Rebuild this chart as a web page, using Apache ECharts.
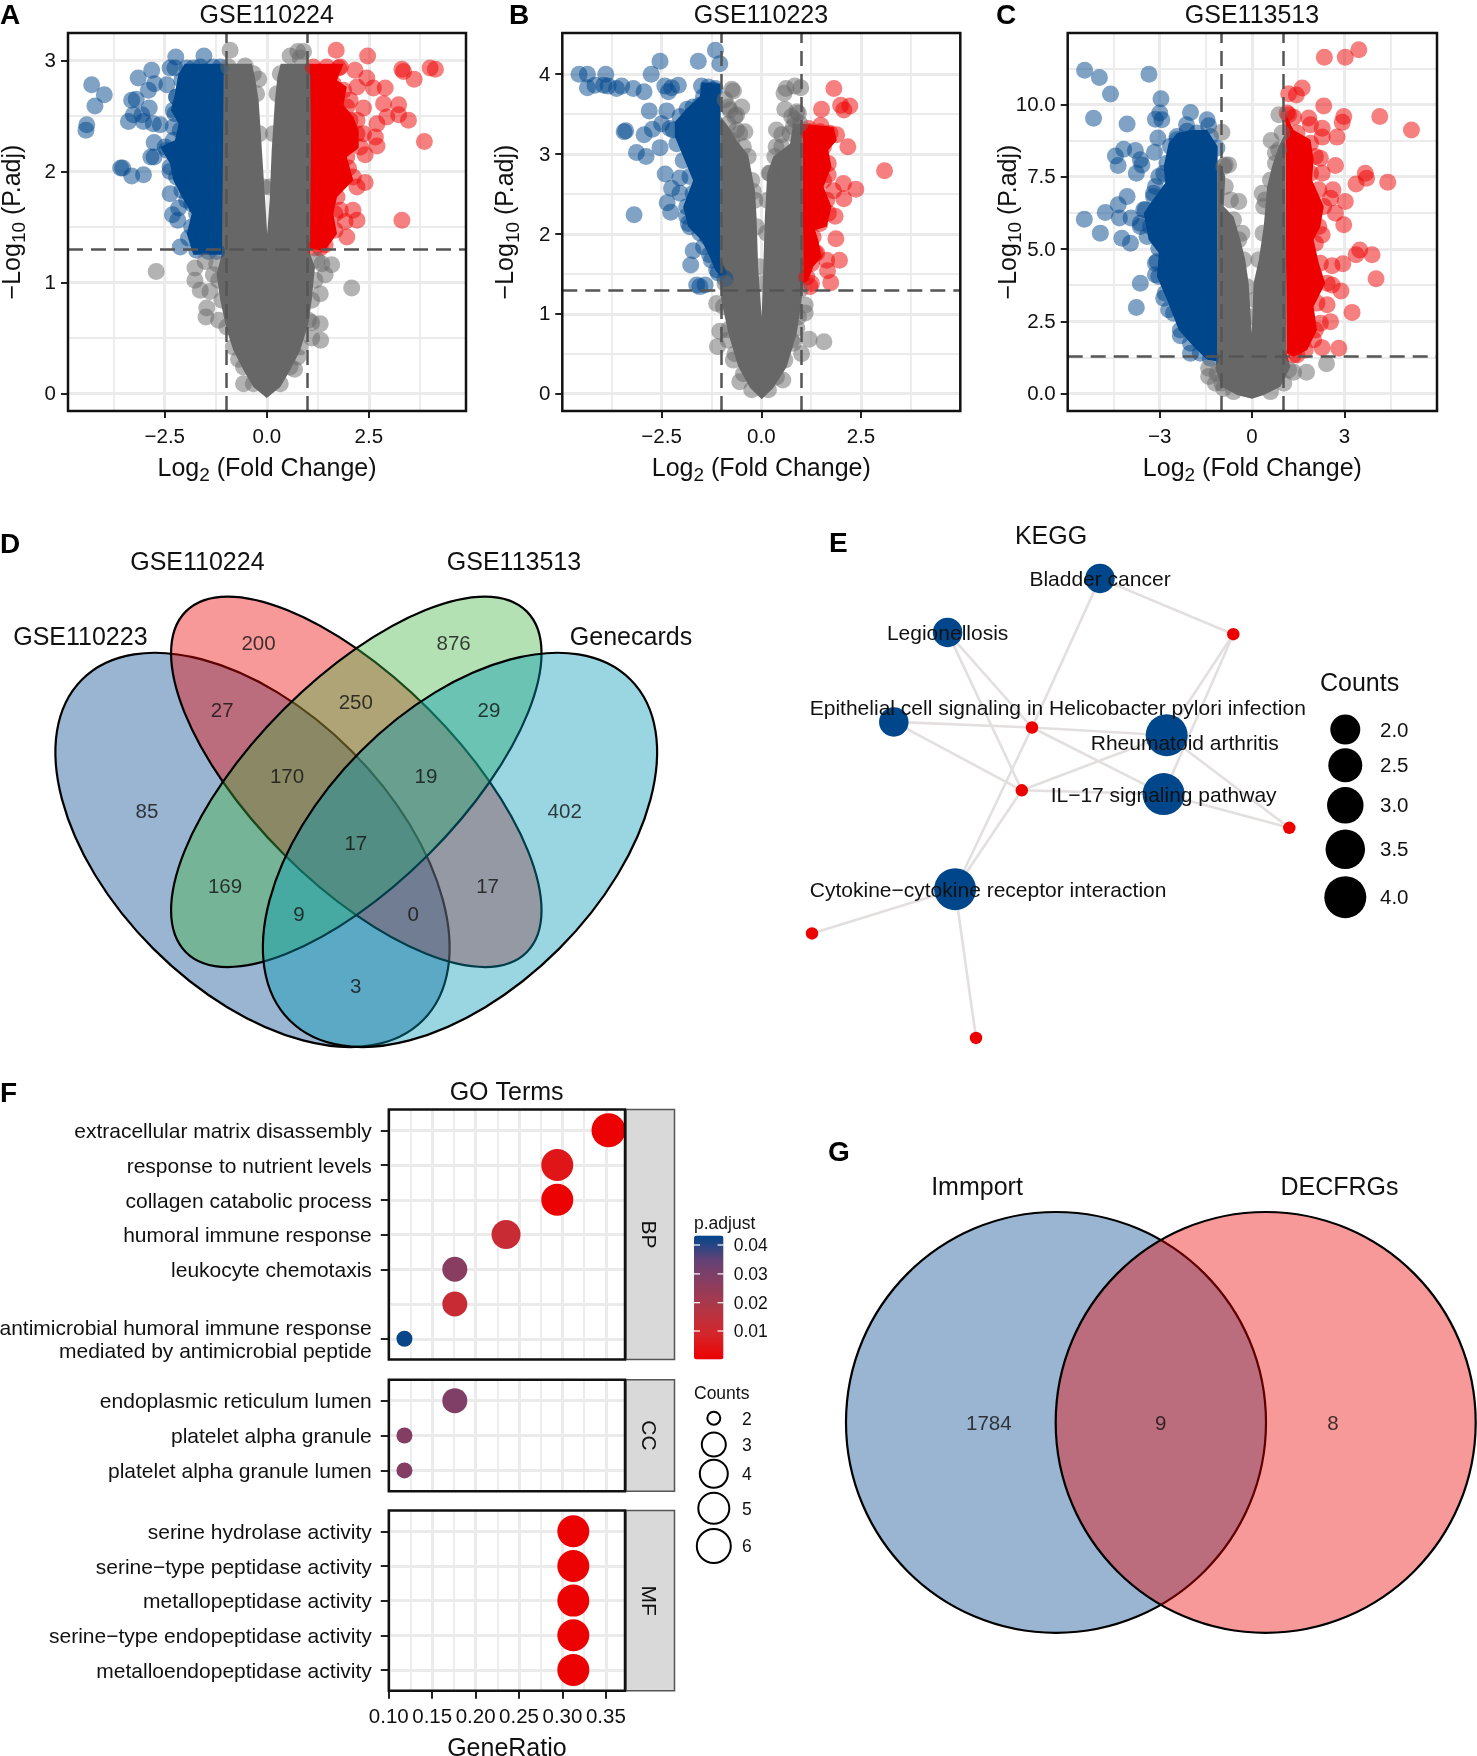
<!DOCTYPE html>
<html><head><meta charset="utf-8">
<style>html,body{margin:0;padding:0;background:#fff}#c{width:1477px;height:1756px}</style>
<script src="https://cdn.jsdelivr.net/npm/echarts@6/dist/echarts.min.js"></script>
</head><body><div id="c"></div>
<script>
// ---------- DATA: volcano A (GSE110224) ----------
const aBlueDots=[[-4.29,2.78],[-3.98,2.69],[-4.21,2.59],[-4.41,2.42],[-4.43,2.37],[-3.15,2.84],[-2.82,2.91],[-2.23,3.03],[-1.54,3.04],[-2.37,2.93],[-2.25,2.93],[-1.80,2.93],[-2.90,2.73],[-2.75,2.79],[-2.45,2.78],[-3.31,2.64],[-3.20,2.65],[-2.88,2.57],[-3.39,2.45],[-3.06,2.51],[-3.02,2.45],[-3.27,2.51],[-2.61,2.42],[-2.29,2.40],[-2.78,2.43],[-2.76,2.26],[-2.49,2.22],[-2.84,2.13],[-2.76,2.13],[-3.58,2.03],[-3.31,1.96],[-3.02,1.97],[-3.53,2.03],[-2.37,2.0],[-2.37,1.80],[-2.16,1.67],[-2.31,1.61],[-2.18,1.56],[-2.12,1.32],[-1.84,1.71],[-2.21,2.67],[-2.25,2.52]];
const aBlueEdge=[[-1.96,2.93],[-2.08,2.82],[-2.21,2.67],[-2.29,2.55],[-2.12,2.37],[-2.29,2.28],[-2.45,2.19],[-2.37,2.04],[-2.21,1.95],[-2.08,1.83],[-1.96,1.74],[-1.72,1.62],[-1.84,1.50],[-1.92,1.40],[-1.72,1.29],[-1.43,1.28],[-1.23,1.28],[-1.63,2.94],[-1.31,2.94],[-1.14,2.94]];
const aRedDots=[[1.70,3.09],[2.47,3.04],[3.31,2.92],[4.00,2.93],[4.13,2.92],[3.61,2.83],[3.35,2.90],[2.90,2.75],[2.86,2.61],[3.23,2.60],[3.23,2.51],[3.47,2.46],[2.94,2.49],[3.86,2.27],[2.70,2.43],[2.66,2.31],[2.70,2.23],[2.41,2.15],[2.41,1.90],[2.21,1.86],[3.31,1.56],[2.11,1.65],[1.96,1.41],[1.92,1.55],[2.21,1.56],[1.80,1.65],[2.16,2.91],[2.45,2.84],[2.21,2.76],[2.61,2.75],[2.37,2.57],[2.04,2.64],[1.80,2.94],[2.04,2.46],[2.21,2.34],[2.00,2.03],[2.04,2.25],[1.31,1.31]];
const aRedEdge=[[1.14,2.94],[1.47,2.94],[1.76,2.93],[1.63,2.79],[1.88,2.73],[1.96,2.58],[2.21,2.46],[2.37,2.34],[2.29,2.22],[1.96,2.13],[2.12,1.95],[1.72,1.77],[1.67,1.62],[1.67,1.47],[1.43,1.34],[1.18,1.31]];
const aGrayDots=[[-0.90,3.09],[0.57,3.04],[0.76,3.08],[0.90,3.08],[0.82,3.02],[-0.20,2.83],[-2.71,1.10],[-1.76,1.13],[-1.51,1.19],[-1.76,1.02],[-1.63,.93],[-1.47,.77],[-1.49,.69],[-1.18,.66],[-1.39,.92],[-1.31,1.07],[2.08,.95],[1.59,1.16],[1.35,1.17],[1.43,1.07],[1.31,.90],[1.31,.63],[1.32,.48],[1.10,.50],[1.10,.64],[.76,.33],[.68,.22],[-.57,.09],[-.69,.31]];
const aGrayEdge=[[-.94,2.94],[-.53,2.95],[-1.23,1.17],[-1.18,1.02],[-1.10,.84],[-.98,.60],[-.82,.42],[-.57,.24],[-.33,.09],[1.23,1.20],[1.18,1.02],[1.10,.84],[1.02,.66],[.82,.42],[.57,.24],[.33,.09],[-.33,2.88],[-.25,2.70],[-.18,2.34],[-.08,1.86],[.33,2.88],[.25,2.70],[.16,2.34],[.08,1.86]];
// outlines of the solid, over-plotted masses
const aGrayMass=[[-1.05,2.97],[-.37,2.97],[-.29,2.85],[-.20,2.64],[-.12,2.19],[-.04,1.74],[0.01,1.44],[.07,1.74],[.12,2.19],[.20,2.64],[.26,2.85],[.34,2.97],[1.06,2.97],[1.08,2.34],[1.06,1.26],[1.18,1.14],[1.10,.84],[1.02,.63],[.82,.39],[.57,.21],[.33,.06],[0,-.04],[-.33,.06],[-.57,.21],[-.82,.39],[-.98,.57],[-1.14,.84],[-1.23,1.08],[-1.10,1.26]];
const aBlueMass=[[-1.05,2.97],[-2.01,2.97],[-2.17,2.87],[-2.25,2.70],[-2.35,2.55],[-2.16,2.43],[-2.25,2.28],[-2.61,2.22],[-2.37,2.07],[-2.29,1.92],[-2.08,1.77],[-1.84,1.62],[-1.96,1.44],[-1.80,1.25],[-1.05,1.25]];
const aRedMass=[[1.05,2.97],[1.88,2.97],[1.72,2.82],[1.96,2.76],[1.88,2.60],[2.12,2.49],[2.25,2.37],[2.25,2.21],[1.96,2.13],[2.12,1.92],[1.72,1.77],[1.63,1.62],[1.72,1.44],[1.43,1.29],[1.05,1.30]];
// ---------- DATA: volcano B (GSE110223) ----------
const bBlueDots=[[-4.57,4.00],[-4.36,4.00],[-4.36,3.83],[-4.17,3.86],[-3.90,4.00],[-3.95,3.86],[-3.84,3.85],[-3.63,3.82],[-3.50,3.85],[-3.21,3.82],[-2.94,3.78],[-2.76,4.00],[-2.54,4.16],[-1.58,4.16],[-1.15,4.30],[-1.04,4.13],[-2.42,3.85],[-2.33,3.78],[-2.08,3.86],[-2.25,3.83],[-1.50,3.85],[-1.33,3.84],[-1.16,3.82],[-2.81,3.54],[-2.37,3.54],[-1.86,3.56],[-1.54,3.61],[-3.40,3.29],[-3.44,3.28],[-2.73,3.31],[-2.94,3.24],[-3.13,3.02],[-2.89,2.97],[-2.54,3.08],[-3.19,2.24],[-2.41,2.75],[-2.25,2.57],[-2.04,2.70],[-2.36,2.39],[-2.27,2.27],[-1.87,2.22],[-1.79,2.09],[-2.04,2.51],[-1.71,1.79],[-1.77,1.61],[-1.62,1.36],[-1.41,1.36],[-1.54,1.34],[-1.30,1.74],[-1.08,1.51],[-1.35,1.96],[-2.21,3.30],[-2.50,3.38]];
const bBlueEdge=[[-1.20,3.80],[-1.45,3.72],[-1.71,3.59],[-2.04,3.47],[-2.29,3.32],[-2.12,3.13],[-1.96,2.92],[-1.79,2.72],[-1.71,2.51],[-1.87,2.34],[-1.83,2.13],[-1.54,2.01],[-1.45,1.84],[-1.25,1.67],[-1.12,1.55],[-.91,1.44]];
const bRedDots=[[1.82,3.82],[1.99,3.61],[2.22,3.60],[2.07,3.55],[1.51,3.56],[1.49,3.36],[3.09,2.79],[2.17,3.09],[2.37,2.56],[2.06,2.63],[1.81,2.54],[2.07,2.44],[1.85,2.22],[1.87,1.94],[1.96,1.67],[1.64,1.67],[1.66,1.54],[1.74,1.39],[1.22,1.34],[1.26,1.38],[1.35,1.76],[1.89,3.24],[1.18,3.28],[1.68,2.74]];
const bRedEdge=[[1.18,3.32],[1.47,3.28],[1.72,3.26],[1.56,3.09],[1.68,2.88],[1.56,2.67],[1.64,2.42],[1.68,2.26],[1.47,2.13],[1.30,1.96],[1.39,1.76],[1.26,1.63],[1.14,1.46]];
const bGrayDots=[[-.74,3.81],[-.70,3.79],[-.49,3.59],[-.66,3.47],[-.83,3.59],[-.41,3.28],[.62,3.82],[.84,3.85],[.99,3.83],[.57,3.76],[.59,3.56],[.89,3.53],[.76,3.47],[.38,3.30],[.51,3.24],[.37,3.09],[.80,3.34],[.20,2.76],[-.20,2.53],[-1.12,1.13],[-1.04,.78],[-1.10,.59],[-.83,.67],[-.70,.42],[-.54,.15],[1.10,1.11],[1.10,1.01],[1.20,.68],[1.57,.65],[1.01,.50],[.54,.17],[.89,.82],[.80,.63]];
const bGrayEdge=[[-.91,3.68],[-.79,3.55],[-.62,3.49],[-.83,3.38],[-.62,3.30],[-.54,3.26],[-.74,3.17],[-.45,3.09],[-.33,2.97],[-.24,2.67],[-.16,2.42],[-.12,2.09],[-.05,1.59],[.05,1.38],[.13,2.01],[.15,2.42],[.22,2.76],[.34,2.97],[.51,3.09],[.72,3.26],[.84,3.43],[.93,3.51],[.97,3.38],[-.91,1.38],[-.95,1.09],[-.83,.80],[-.66,.50],[-.45,.25],[-.24,.05],[.97,1.30],[.93,.96],[.76,.67],[.59,.42],[.38,.21],[.18,.05]];
const bGrayMass=[[-1.02,3.47],[-.79,3.32],[-.62,3.17],[-.33,2.99],[-.16,2.55],[-.12,2.22],[-.08,1.59],[.01,.96],[.05,1.59],[.09,2.22],[.15,2.76],[.30,2.97],[.72,3.13],[.80,3.38],[1.04,3.38],[1.05,1.42],[1.01,1.17],[.89,.76],[.64,.34],[.30,.07],[.01,-.07],[-.28,.07],[-.58,.34],[-.83,.76],[-1.0,1.17],[-1.04,1.42]];
const bBlueMass=[[-1.02,3.88],[-1.50,3.90],[-1.54,3.72],[-1.87,3.57],[-2.17,3.40],[-2.17,3.22],[-1.96,2.97],[-1.71,2.67],[-1.96,2.34],[-1.83,2.09],[-1.50,1.92],[-1.29,1.71],[-1.16,1.55],[-1.02,1.46]];
const bRedMass=[[1.04,3.38],[1.39,3.36],[1.81,3.34],[1.89,3.17],[1.68,3.05],[1.76,2.84],[1.56,2.59],[1.76,2.34],[1.64,2.09],[1.35,2.05],[1.43,1.92],[1.51,1.71],[1.30,1.59],[1.18,1.42],[1.05,1.38]];
// ---------- DATA: volcano C (GSE113513) ----------
const cBlueDots=[[-5.44,11.18],[-4.96,10.93],[-4.60,10.36],[-5.15,9.52],[-4.06,9.32],[-3.35,11.04],[-2.96,10.20],[-3.00,9.70],[-3.14,9.49],[-2.93,9.47],[-3.06,8.84],[-3.17,8.35],[-2.00,9.72],[-2.13,9.30],[-1.46,9.47],[-1.41,9.26],[-4.17,8.45],[-4.44,8.22],[-4.35,7.89],[-3.79,8.41],[-3.63,8.09],[-3.76,7.62],[-3.58,7.91],[-2.44,8.78],[-4.06,6.82],[-4.35,6.53],[-4.77,6.26],[-5.45,6.03],[-4.31,6.07],[-3.93,6.07],[-4.93,5.55],[-4.23,5.37],[-3.95,5.20],[-3.63,5.78],[-3.47,6.36],[-3.63,3.82],[-3.76,2.98],[-3.14,4.11],[-3.09,4.57],[-2.87,3.30],[-2.33,2.00],[-2.00,1.40],[-3.20,6.93],[-3.03,7.51],[-2.71,2.90],[-3.30,5.78]];
const cBlueEdge=[[-1.14,8.49],[-1.35,8.89],[-1.79,9.01],[-2.11,9.07],[-2.44,8.89],[-2.65,8.55],[-2.76,7.97],[-2.87,7.62],[-3.14,7.16],[-3.20,6.82],[-3.52,6.36],[-3.63,5.89],[-3.41,5.43],[-3.03,5.03],[-3.14,4.51],[-3.03,4.05],[-2.82,3.47],[-2.55,2.78],[-2.33,2.20],[-2.00,1.74],[-1.68,1.40],[-1.35,1.22]];
const cRedDots=[[2.35,11.63],[3.03,11.63],[3.47,11.89],[1.63,10.57],[1.44,10.33],[1.19,10.37],[2.33,9.95],[2.98,9.58],[2.93,9.38],[4.15,9.58],[5.18,9.12],[1.14,9.70],[1.35,9.56],[1.84,9.53],[1.90,9.30],[2.28,9.18],[2.28,8.87],[2.76,8.87],[2.22,8.14],[2.71,7.89],[2.28,7.62],[3.68,7.62],[3.72,7.45],[3.38,7.25],[4.41,7.31],[2.63,7.05],[3.03,6.64],[2.55,6.76],[2.71,6.24],[2.98,5.84],[2.28,5.49],[3.50,4.97],[3.38,4.80],[3.90,4.80],[2.95,4.49],[2.60,4.42],[4.03,3.97],[2.89,3.55],[2.60,3.76],[3.25,2.81],[2.55,2.49],[2.44,3.07],[2.82,1.57],[2.28,1.59],[2.06,2.20],[1.46,1.34]];
const cRedEdge=[[1.19,9.64],[1.46,9.01],[1.90,8.66],[2.06,8.20],[1.90,7.62],[2.17,7.05],[2.33,6.47],[2.17,5.78],[2.06,5.20],[2.22,4.51],[2.44,3.82],[2.11,3.13],[2.22,2.43],[2.00,1.86],[1.73,1.51],[1.35,1.34]];
const cGrayDots=[[-.98,9.04],[.62,8.75],[.87,9.64],[.76,8.32],[-.87,7.91],[-.76,7.91],[-.43,6.64],[-.33,5.55],[.38,6.47],[.33,6.93],[-1.41,.88],[-1.41,.59],[-1.19,.36],[-.92,.18],[1.77,.74],[2.42,1.03],[1.35,.74]];
const cGrayEdge=[[-.92,7.85],[-.87,7.16],[-.70,6.70],[-.60,6.01],[-.43,5.32],[-.27,4.63],[-.16,3.70],[-.08,2.66],[.11,3.24],[.22,4.63],[.36,5.55],[.43,6.70],[.60,7.39],[.76,7.97],[.87,8.43],[.98,9.01],[-1.14,.70],[-.98,.36],[-.60,.07],[.60,.07],[1.03,.36],[1.19,.82]];
const cGrayMass=[[-1.03,7.97],[-.87,7.51],[-.92,6.47],[-.60,6.12],[-.38,5.32],[-.22,4.63],[-.11,3.82],[-.01,2.09],[.05,3.82],[.22,4.63],[.38,5.78],[.49,7.16],[.65,7.85],[.87,8.55],[1.08,9.01],[1.12,1.40],[1.25,.93],[.92,.24],[.38,-.05],[0,-.18],[-.49,-.05],[-.98,.24],[-1.19,.82],[-1.14,1.40],[-1.12,7.85]];
const cBlueMass=[[-1.12,8.55],[-1.46,9.12],[-2.00,9.12],[-2.44,9.00],[-2.71,8.66],[-2.87,7.85],[-2.82,7.28],[-3.30,6.59],[-3.52,6.24],[-3.36,5.32],[-3.03,4.86],[-3.09,4.05],[-2.76,3.24],[-2.38,2.20],[-1.90,1.63],[-1.46,1.17],[-1.12,1.11]];
const cRedMass=[[1.08,9.70],[1.35,9.12],[1.90,8.78],[2.00,8.09],[1.95,7.39],[2.33,6.47],[2.22,5.78],[2.00,5.32],[2.17,4.51],[2.38,3.82],[2.00,3.01],[2.11,2.20],[1.79,1.51],[1.35,1.28],[1.12,1.40]];
// ---------- DATA: Venn D ----------
const vennDSets=['GSE110223','GSE110224','GSE113513','Genecards'];
const vennDCounts=[200,876,27,250,29,170,19,85,402,17,169,17,9,0,3];
// ---------- DATA: KEGG network E ----------
const keggTerms=['Bladder cancer','Legionellosis','Epithelial cell signaling in Helicobacter pylori infection','Rheumatoid arthritis','IL\u221217 signaling pathway','Cytokine\u2212cytokine receptor interaction'];
const keggCounts=[2,2,2,4,4,4];
const keggLinks=[[0,6],[0,7],[1,7],[1,8],[2,7],[2,8],[3,7],[3,8],[3,6],[3,9],[4,7],[4,8],[4,6],[4,9],[5,7],[5,8],[5,10],[5,11]];
const keggLegendCounts=['2.0','2.5','3.0','3.5','4.0'];
// ---------- DATA: GO dotplot F ----------
const bpTerms=['extracellular matrix disassembly','response to nutrient levels','collagen catabolic process','humoral immune response','leukocyte chemotaxis','antimicrobial humoral response','antimicrobial humoral immune response\nmediated by antimicrobial peptide'];
const bpRatio=[.353,.294,.294,.235,.176,.176,.118];
const bpPadj=[.0005,.005,.0005,.012,.027,.012,.0425];
const bpCount=[6,5,5,4,3,3,2];
const ccTerms=['endoplasmic reticulum lumen','platelet alpha granule','platelet alpha granule lumen'];
const ccRatio=[.176,.118,.118];
const ccPadj=[.029,.028,.028];
const ccCount=[3,2,2];
const mfTerms=['serine hydrolase activity','serine\u2212type peptidase activity','metallopeptidase activity','serine\u2212type endopeptidase activity','metalloendopeptidase activity'];
const mfRatio=[.3125,.3125,.3125,.3125,.3125];
const mfPadj=[.0005,.0005,.0005,.0005,.0005];
const mfCount=[5,5,5,5,5];
const ratioTicks=[.10,.15,.20,.25,.30,.35];
const padjTicks=[.04,.03,.02,.01];
const goLegendCounts=[2,3,4,5,6];
// ---------- DATA: Venn G ----------
const vennGSets=['Immport','DECFRGs'];
const vennGCounts=[1784,9,8];

// ---------- LAYOUT / STYLE ----------
const FONT='"Liberation Sans",Arial,sans-serif';
const BLUE='#00468B',RED='#ED0000',GRAY='#676767',GRID='#EBEBEB',FRAME='#111';
const TDY=1.5;
const grid=[],xAxis=[],yAxis=[],series=[],graphic=[];
const minus=s=>String(s).replace('-','\u2212');
function T(text,x,y,o={}){graphic.push({type:'text',x,y:y+TDY,rotation:o.rot||0,z:50,style:{text,fill:o.color||'#111',
  font:`${o.bold?'bold ':''}${o.size||20}px ${FONT}`,textAlign:o.align||'center',textVerticalAlign:'middle'}});}
function frame(l,t,w,h){graphic.push({type:'rect',z:30,shape:{x:l,y:t,width:w,height:h},style:{fill:'none',stroke:FRAME,lineWidth:2.5}});}
function massSeries(points,color,xi,yi){
  series.push({type:'custom',xAxisIndex:xi,yAxisIndex:yi,silent:true,data:points,
    renderItem(p,api){if(p.dataIndex!==0)return;
      return {type:'polygon',shape:{points:points.map(q=>api.coord(q))},style:{fill:color}};}});
}
const richName={n:{fontSize:25,fontFamily:FONT,color:'#111',lineHeight:36},s:{fontSize:19,fontFamily:FONT,color:'#111',lineHeight:36,padding:[14,0,0,0]}};
function volcano(c){
  const gi=grid.length;
  grid.push({outerBoundsMode:'none',left:c.l,top:33,width:c.r-c.l,height:378,show:true,borderWidth:0,backgroundColor:'#fff'});
  frame(c.l,33,c.r-c.l,378);
  const xi=xAxis.length,yi=yAxis.length;
  xAxis.push({type:'value',gridIndex:gi,position:'bottom',min:c.xr[0],max:c.xr[1],
    name:'{n|Log}{s|2}{n| (Fold Change)}',nameLocation:'middle',nameGap:40,nameMoveOverlap:false,nameTextStyle:{rich:richName},
    axisLine:{show:false,onZero:false},axisTick:{length:7,lineStyle:{color:'#222',width:2},customValues:c.xt},
    axisLabel:{fontSize:20.5,fontFamily:FONT,color:'#111',margin:16,customValues:c.xt,formatter:v=>minus(v.toFixed(c.xd))},
    splitLine:{show:true,lineStyle:{color:GRID,width:3}}});
  xAxis.push({type:'value',gridIndex:gi,position:'top',min:c.xr[0],max:c.xr[1],
    axisLine:{show:false,onZero:false},axisTick:{show:false,customValues:c.xm},axisLabel:{show:false,customValues:c.xm},
    splitLine:{show:true,lineStyle:{color:GRID,width:1.8}}});
  yAxis.push({type:'value',gridIndex:gi,position:'left',min:c.yr[0],max:c.yr[1],
    name:'{n|\u2212Log}{s|10}{n| (P.adj)}',nameLocation:'middle',nameRotate:90,nameGap:c.yGap,nameMoveOverlap:false,nameTextStyle:{rich:richName},
    axisLine:{show:false,onZero:false},axisTick:{length:7,lineStyle:{color:'#222',width:2},customValues:c.yt},
    axisLabel:{fontSize:20.5,fontFamily:FONT,color:'#111',margin:12,customValues:c.yt,
      formatter:v=>`{t|${v.toFixed(c.yd)}}`,rich:{t:{fontSize:20.5,fontFamily:FONT,color:'#111',padding:[2,0,0,0]}}},
    splitLine:{show:true,lineStyle:{color:GRID,width:3}}});
  yAxis.push({type:'value',gridIndex:gi,position:'right',min:c.yr[0],max:c.yr[1],
    axisLine:{show:false,onZero:false},axisTick:{show:false,customValues:c.ym},axisLabel:{show:false,customValues:c.ym},
    splitLine:{show:true,lineStyle:{color:GRID,width:1.8}}});
  massSeries(c.blueMass,BLUE,xi,yi);
  massSeries(c.redMass,'#EE0000',xi,yi);
  const dot=(data,color,extra)=>series.push(Object.assign({type:'scatter',xAxisIndex:xi,yAxisIndex:yi,data,symbolSize:17,silent:true,
    itemStyle:{color,opacity:.5}},extra||{}));
  dot(c.blue,BLUE);dot(c.blueEdge,BLUE);dot(c.red,RED);dot(c.redEdge,RED);
  massSeries(c.grayMass,GRAY,xi,yi);
  dot(c.grayEdge,GRAY);
  dot(c.gray,GRAY,{markLine:{silent:true,symbol:'none',animation:false,label:{show:false},
    lineStyle:{color:'#555',width:2.5,type:[15,8]},data:[{xAxis:-1},{xAxis:1},{yAxis:1.3}]}});
}
volcano({l:68,r:466,xr:[-4.87,4.88],yr:[-.156,3.246],xt:[-2.5,0,2.5],xm:[-3.75,-1.25,1.25,3.75],yt:[0,1,2,3],ym:[.5,1.5,2.5],xd:1,yd:0,yGap:37,
  blue:aBlueDots,blueEdge:aBlueEdge,red:aRedDots,redEdge:aRedEdge,gray:aGrayDots,grayEdge:aGrayEdge,blueMass:aBlueMass,redMass:aRedMass,grayMass:aGrayMass});
volcano({l:562.3,r:960.3,xr:[-4.99,4.99],yr:[-.217,4.515],xt:[-2.5,0,2.5],xm:[-3.75,-1.25,1.25,3.75],yt:[0,1,2,3,4],ym:[.5,1.5,2.5,3.5],xd:1,yd:0,yGap:38,
  blue:bBlueDots,blueEdge:bBlueEdge,red:bRedDots,redEdge:bRedEdge,gray:bGrayDots,grayEdge:bGrayEdge,blueMass:bBlueMass,redMass:bRedMass,grayMass:bGrayMass});
volcano({l:1067.7,r:1437,xr:[-5.99,6.01],yr:[-.6,12.47],xt:[-3,0,3],xm:[-4.5,-1.5,1.5,4.5],yt:[0,2.5,5,7.5,10],ym:[1.25,3.75,6.25,8.75,11.25],xd:0,yd:1,yGap:41,
  blue:cBlueDots,blueEdge:cBlueEdge,red:cRedDots,redEdge:cRedEdge,gray:cGrayDots,grayEdge:cGrayEdge,blueMass:cBlueMass,redMass:cRedMass,grayMass:cGrayMass});

// --- GO facets
const goScatterIdx=[];
const goSize=n=>({2:16,3:25,4:29,5:32,6:34}[n]);
function facet(top,bottom,terms,ratio,padj,count,showX){
  const gi=grid.length;
  grid.push({outerBoundsMode:'none',left:388.8,top,width:236.2,height:bottom-top,show:true,borderWidth:0,backgroundColor:'#fff'});
  frame(388.8,top,236.2,bottom-top);
  const xi=xAxis.length,yi=yAxis.length,rows=terms.map((_,i)=>i);
  const xr=[.10,.372];
  xAxis.push({type:'value',gridIndex:gi,position:'bottom',min:xr[0],max:xr[1],
    name:showX?'GeneRatio':'',nameLocation:'middle',nameGap:46,nameTextStyle:{fontSize:25,fontFamily:FONT,color:'#111'},
    axisLine:{show:false,onZero:false},axisTick:{show:showX,length:8,lineStyle:{color:'#222',width:2},customValues:ratioTicks},
    axisLabel:{show:showX,fontSize:20.5,fontFamily:FONT,color:'#111',margin:16,customValues:ratioTicks,hideOverlap:false,showMinLabel:true,showMaxLabel:true,formatter:v=>v.toFixed(2)},
    splitLine:{show:true,lineStyle:{color:GRID,width:3}}});
  const minorX=[.125,.175,.225,.275,.325];
  xAxis.push({type:'value',gridIndex:gi,position:'top',min:xr[0],max:xr[1],
    axisLine:{show:false,onZero:false},axisTick:{show:false,customValues:minorX},axisLabel:{show:false,customValues:minorX},
    splitLine:{show:true,lineStyle:{color:GRID,width:1.8}}});
  yAxis.push({type:'value',gridIndex:gi,inverse:true,min:-.6,max:terms.length-.4,
    axisLine:{show:false,onZero:false},axisTick:{length:8,lineStyle:{color:'#222',width:2},customValues:rows},
    axisLabel:{fontSize:21,fontFamily:FONT,color:'#111',margin:17,customValues:rows,hideOverlap:false,showMinLabel:true,showMaxLabel:true,
      formatter:v=>{const ls=terms[Math.round(v)].split('\n');const k=ls.length>1?'m':'t';return ls.map(l=>`{${k}|${l}}`).join('\n');},
      rich:{t:{fontSize:21,fontFamily:FONT,color:'#111',lineHeight:12,padding:[4,0,0,0],align:'right'},
            m:{fontSize:21,fontFamily:FONT,color:'#111',lineHeight:23,padding:[4,0,0,0],align:'right'}}},
    splitLine:{show:true,lineStyle:{color:GRID,width:3}}});
  goScatterIdx.push(series.length);
  series.push({type:'scatter',xAxisIndex:xi,yAxisIndex:yi,silent:true,
    data:terms.map((_,i)=>[ratio[i],i,padj[i],count[i]]),symbolSize:v=>goSize(v[3]),itemStyle:{opacity:1}});
}
facet(1109.4,1359.6,bpTerms,bpRatio,bpPadj,bpCount,false);
facet(1379.7,1491.3,ccTerms,ccRatio,ccPadj,ccCount,false);
facet(1510.5,1690.7,mfTerms,mfRatio,mfPadj,mfCount,true);

// --- full-page pixel coordinate system for non-axis panels
const pg=grid.length;
grid.push({outerBoundsMode:'none',left:0,top:0,width:1477,height:1756,show:false});
const px=xAxis.length,py=yAxis.length;
xAxis.push({type:'value',gridIndex:pg,min:0,max:1477,show:false});
yAxis.push({type:'value',gridIndex:pg,min:0,max:1756,inverse:true,show:false});
const onPage={xAxisIndex:px,yAxisIndex:py,silent:true};

function ellipses(list){
  series.push(Object.assign({type:'custom',data:list.map((e,i)=>[e[0],e[1],i]),
    renderItem(p,api){const e=list[p.dataIndex],c=api.coord([e[0],e[1]]);
      return {type:'ellipse',x:c[0],y:c[1],rotation:-e[4]*Math.PI/180,shape:{cx:0,cy:0,rx:e[2],ry:e[3]},
        style:{fill:e[5],stroke:'#000',lineWidth:2.2}};}},onPage));
}
function countLabels(counts,pos){
  series.push(Object.assign({type:'scatter',symbolSize:1,itemStyle:{color:'transparent'},
    data:counts.map((v,i)=>({value:[pos[i][0],pos[i][1]+TDY],name:String(v)})),
    label:{show:true,position:'inside',formatter:'{b}',fontSize:20.5,fontFamily:FONT,color:'#111'}},onPage));
}
// Venn D
ellipses([[252.5,849.9,241,140,45,'rgba(0,70,139,.4)'],[356.3,781.8,241,102.5,45,'rgba(237,0,0,.4)'],
  [356.3,781.8,241,102.5,-45,'rgba(66,181,64,.4)'],[460,849.9,241,140,-45,'rgba(0,153,180,.4)']]);
countLabels(vennDCounts,[[258.5,643],[453.6,643],[222.2,710],[355.8,701.5],[489,710],[287,775.5],[426,775.5],[147,811],[564.7,811],[355.8,842.7],[225,886],[487.6,886],[299,914.3],[413.2,914.3],[355.8,986]]);
[[80.4,637],[197.4,561.3],[514,561.3],[631,637]].forEach((p,i)=>T(vennDSets[i],p[0],p[1],{size:25}));
// Venn G
ellipses([[1056,1422.4,210,210.4,0,'rgba(0,70,139,.4)'],[1265.7,1422.4,210,210.4,0,'rgba(237,0,0,.4)']]);
countLabels(vennGCounts,[[988.8,1422.7],[1160.6,1422.7],[1333,1422.7]]);
T(vennGSets[0],977,1186.6,{size:25});T(vennGSets[1],1339.5,1186.6,{size:25});

// KEGG network
const keggPos=[[1100,578.4],[947.6,632.4],[893.8,721.9],[1166.7,735.2],[1163.6,794.1],[955.1,889.2],
  [1233.3,634.2],[1032,727.5],[1021.8,790.3],[1289.3,827.8],[812,933.4],[976,1037.9]];
const keggLabelOffset=[[0,1.5],[0,2],[164,-12.5],[18,9.5],[0,2.5],[33,2.5]];
const keggSize=n=>({2:29.5,4:42}[n]);
series.push(Object.assign({type:'graph',coordinateSystem:'cartesian2d',layout:'none',roam:false,
  data:keggPos.map((p,i)=>i<keggTerms.length
    ?{name:keggTerms[i],value:p,symbolSize:keggSize(keggCounts[i]),itemStyle:{color:BLUE},
      label:{show:true,position:'inside',offset:keggLabelOffset[i],formatter:'{b}',fontSize:21,fontFamily:FONT,color:'#111'}}
    :{name:'gene'+(i-keggTerms.length),value:p,symbolSize:12.5,itemStyle:{color:RED},label:{show:false}}),
  links:keggLinks.map(l=>({source:l[0],target:l[1]})),
  lineStyle:{color:'#E3DFDF',width:2.6,opacity:1,curveness:0}},onPage));
T('KEGG',1051,536,{size:25});
T('Counts',1320,682.6,{size:25,align:'left'});
const keggLegPos=[729.6,765.3,805.3,849.2,897.2],keggLegSize=[30,34,36.5,39.5,42];
series.push(Object.assign({type:'scatter',data:keggLegendCounts.map((v,i)=>[1345.3,keggLegPos[i],keggLegSize[i]]),
  symbolSize:v=>v[2],itemStyle:{color:'#000',opacity:1}},onPage));
keggLegendCounts.forEach((v,i)=>T(v,1380,keggLegPos[i],{align:'left',size:20.5}));

// GO extras
T('GO Terms',506.6,1091.9,{size:25});
[['BP',1109.4,1359.6],['CC',1379.7,1491.3],['MF',1510.5,1690.7]].forEach(s=>{
  graphic.push({type:'rect',z:1,shape:{x:626,y:s[1],width:48.5,height:s[2]-s[1]},style:{fill:'#D9D9D9',stroke:'#555',lineWidth:1.5}});
  T(s[0],648,(s[1]+s[2])/2-TDY,{rot:-Math.PI/2,size:21});
});
T('p.adjust',694,1223,{size:17.5,align:'left'});
const padjY=[1245,1273.9,1302.7,1331];
padjTicks.forEach((v,i)=>{T(v.toFixed(2),733.7,padjY[i],{size:17.5,align:'left'});
  [[694,700],[717.5,723.5]].forEach(a=>graphic.push({type:'line',z:20,shape:{x1:a[0],y1:padjY[i],x2:a[1],y2:padjY[i]},style:{stroke:'#fff',lineWidth:1.2}}));});
T('Counts',694,1392.8,{size:17.5,align:'left'});
const goLegY=[1418.2,1444.5,1473.8,1508.3,1546],goLegSize=[13,24,28,31,34];
series.push(Object.assign({type:'scatter',data:goLegendCounts.map((v,i)=>[713.8,goLegY[i],goLegSize[i]]),
  symbolSize:v=>v[2],itemStyle:{color:'#fff',borderColor:'#000',borderWidth:2,opacity:1}},onPage));
goLegendCounts.forEach((v,i)=>T(String(v),742,goLegY[i],{size:17.5,align:'left'}));

// volcano titles, panel letters
[['GSE110224',266.7],['GSE110223',761],['GSE113513',1252]].forEach(a=>T(a[0],a[1],15,{size:25}));
[['A',0,15],['B',509,15],['C',996,15],['D',0,544],['E',829,543],['F',0,1092.7],['G',828,1151.6]].forEach(a=>T(a[0],a[1],a[2],{size:28,bold:true,align:'left',color:'#000'}));

const chart=echarts.init(document.getElementById('c'),null,{renderer:'canvas',width:1477,height:1756});
chart.setOption({animation:false,backgroundColor:'#fff',textStyle:{fontFamily:FONT},tooltip:{show:false},
  grid,xAxis,yAxis,series,graphic:{elements:graphic},
  visualMap:{type:'continuous',seriesIndex:goScatterIdx,dimension:2,min:.0001,max:.0433,left:694,top:1235.4,padding:0,
    itemWidth:29.5,itemHeight:124.2,calculable:false,realtime:false,hoverLink:false,text:null,showLabel:false,
    inRange:{color:['#ED0000','#D4252A','#B33645','#8E3D5E','#634276','#00468B']}}});
</script></body></html>
